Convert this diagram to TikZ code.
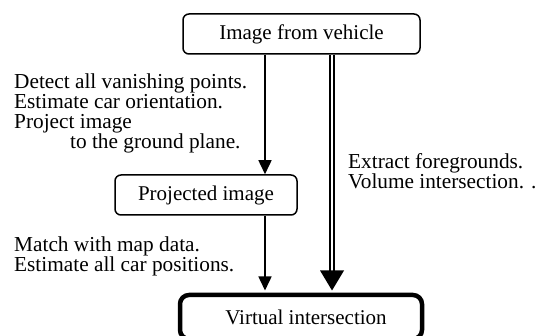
\documentclass[tikz,border=0pt]{standalone}
\usepackage{fontspec}
\setmainfont{Liberation Serif}
\usetikzlibrary{arrows.meta,calc}
\begin{document}
\begin{tikzpicture}[x=1pt,y=-1pt,
  box/.style={draw,rounded corners=6pt,line width=1.5pt,inner sep=0pt,font=\fontsize{21}{20}\selectfont},
  bigbox/.style={draw,rounded corners=9pt,line width=4.5pt,inner sep=0pt,font=\fontsize{21}{20}\selectfont},
  lbl/.style={inner sep=0pt,anchor=north west,align=left,font=\fontsize{21.3}{20}\selectfont},
  arr/.style={line width=1.5pt,-{Triangle[width=13pt,length=14pt]}},
  dbl/.style={double,line width=1.4pt,double distance=2.6pt}]
\useasboundingbox (0,0) rectangle (539,336);
\clip (0,0) rectangle (539,336);
\node[box,minimum width=237pt,minimum height=40pt] (top) at (301.5,34) {Image from vehicle};
\node[box,minimum width=182pt,minimum height=40pt] (proj) at (206,195) {Projected image};
\node[bigbox,minimum width=242pt,minimum height=44pt] (vi) at (301,317) {\hspace*{10pt}Virtual intersection};
\coordinate (a1) at (265,0);
\coordinate (a2) at (332,0);
\draw[arr] (top.south -| a1) -- (proj.north -| a1);
\draw[arr] (proj.south -| a1) -- ($(vi.north -| a1)+(0,-2.25)$);
\draw[dbl] (top.south -| a2) -- ($(vi.north -| a2)+(0,-20)$);
\fill ($(vi.north -| a2)+(0,-2.25)$) -- ++(-12,-20) -- ++(24,0) -- cycle;
\node[lbl] (t1) at (14,74) {Detect all vanishing points.\\Estimate car orientation.\\Project image\\\hspace*{56pt}to the ground plane.};
\node[lbl] (t2) at (348,153) {Extract foregrounds.\\Volume intersection. .};
\node[lbl] (t3) at (14,237) {Match with map data.\\Estimate all car positions.};
\end{tikzpicture}
\end{document}
